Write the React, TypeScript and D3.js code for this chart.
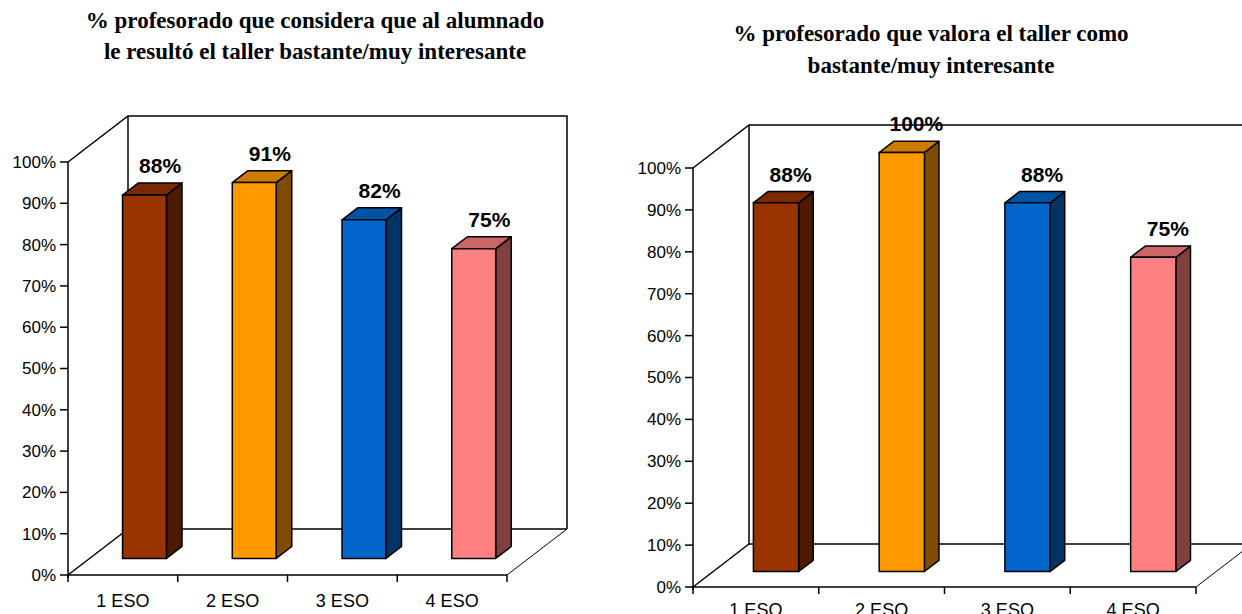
import React from 'react'
import * as d3 from 'd3'

const categories = ['1 ESO', '2 ESO', '3 ESO', '4 ESO']
const alumnadoValues = [88, 91, 82, 75]
const profesoradoValues = [88, 100, 88, 75]
const yTicks = [0, 10, 20, 30, 40, 50, 60, 70, 80, 90, 100]

const leftTitle = ['% profesorado que considera que al alumnado', 'le resultó el taller bastante/muy interesante']
const rightTitle = ['% profesorado que valora el taller como', 'bastante/muy interesante']

// front, side, top colours for each bar
const barColors = [
  { front: '#993300', side: '#4d1a00', top: '#7a2900' },
  { front: '#ff9900', side: '#804d00', top: '#cc7a00' },
  { front: '#0066cc', side: '#003366', top: '#0052a3' },
  { front: '#ff8080', side: '#804040', top: '#cc6666' },
]

interface ChartProps {
  values: number[]
  x0: number
  x1: number
  yBottom: number
  yTop: number
  dx: number
  dy: number
  barFrac: number
  title: string[]
  titleX: number
  titleY: number[]
  labelY: number
}

function Chart3D({ values, x0, x1, yBottom, yTop, dx, dy, barFrac, title, titleX, titleY, labelY }: ChartProps) {
  const x = d3.scaleBand<string>().domain(categories).range([x0, x1])
  const y = d3.scaleLinear().domain([0, 100]).range([yBottom, yTop])
  const dStart = 0.36
  const dEnd = 0.62
  const bw = x.bandwidth() * barFrac

  const lineStyle = { stroke: '#000', strokeWidth: 1.5, fill: 'none' }
  const sans = 'Arial, "Liberation Sans", sans-serif'

  return (
    <g>
      {title.map((t, i) => (
        <text key={i} x={titleX} y={titleY[i]} textAnchor="middle"
          style={{ fontFamily: '"Liberation Serif", "Times New Roman", serif', fontWeight: 'bold', fontSize: 23 }}>
          {t}
        </text>
      ))}
      {/* walls and floor */}
      <polyline {...lineStyle} points={`${x0},${y(100)} ${x0 + dx},${y(100) - dy} ${x1 + dx},${y(100) - dy} ${x1 + dx},${y(0) - dy}`} />
      <line {...lineStyle} x1={x0 + dx} y1={y(100) - dy} x2={x0 + dx} y2={y(0) - dy} />
      <line {...lineStyle} x1={x0 + dx} y1={y(0) - dy} x2={x1 + dx} y2={y(0) - dy} />
      <line {...lineStyle} x1={x0} y1={y(0)} x2={x0 + dx} y2={y(0) - dy} />
      <line {...lineStyle} strokeWidth={1} x1={x1} y1={y(0)} x2={x1 + dx} y2={y(0) - dy} />
      {/* y axis */}
      <line {...lineStyle} x1={x0} y1={y(100)} x2={x0} y2={y(0) + 3} />
      {yTicks.map(t => (
        <g key={t}>
          <line {...lineStyle} x1={x0 - 8} x2={x0} y1={y(t)} y2={y(t)} />
          <text x={x0 - 12} y={y(t)} dy="0.35em" textAnchor="end"
            style={{ fontFamily: sans, fontSize: 17 }}>{t}%</text>
        </g>
      ))}
      {/* x axis */}
      <line {...lineStyle} x1={x0} y1={y(0)} x2={x1} y2={y(0)} />
      {[...categories.map(c => x(c) as number), x1].map((px, i) => (
        <line key={i} stroke="#000" strokeWidth={1.5} x1={px} x2={px} y1={y(0)} y2={y(0) + 7} />
      ))}
      {categories.map(c => (
        <text key={c} x={(x(c) as number) + x.bandwidth() / 2} y={labelY} textAnchor="middle"
          style={{ fontFamily: sans, fontSize: 18 }}>{c}</text>
      ))}
      {/* bars */}
      {values.map((v, i) => {
        const cx = (x(categories[i]) as number) + x.bandwidth() / 2
        const fx = cx - bw / 2 + dStart * dx
        const fyTop = y(v) - dStart * dy
        const fyBot = y(0) - dStart * dy
        const bdx = (dEnd - dStart) * dx
        const bdy = (dEnd - dStart) * dy
        const col = barColors[i]
        return (
          <g key={i} stroke="#000" strokeWidth={1.5} strokeLinejoin="round">
            <polygon fill={col.side} points={`${fx + bw},${fyTop} ${fx + bw + bdx},${fyTop - bdy} ${fx + bw + bdx},${fyBot - bdy} ${fx + bw},${fyBot}`} />
            <polygon fill={col.top} points={`${fx},${fyTop} ${fx + bdx},${fyTop - bdy} ${fx + bw + bdx},${fyTop - bdy} ${fx + bw},${fyTop}`} />
            <rect fill={col.front} x={fx} y={fyTop} width={bw} height={fyBot - fyTop} />
            <text x={fx + bw / 2 + bdx} y={fyTop - bdy - 10} textAnchor="middle" stroke="none" fill="#000"
              style={{ fontFamily: sans, fontSize: 21, fontWeight: 'bold' }}>
              {v}%
            </text>
          </g>
        )
      })}
    </g>
  )
}

export default function App() {
  return (
    <svg width={1242} height={614} style={{ position: 'fixed', left: 0, top: 0, background: '#fff' }}>
      <rect width={1242} height={614} fill="#fff" />
      <Chart3D values={alumnadoValues} x0={68} x1={507} yBottom={575} yTop={162} dx={60} dy={46} barFrac={0.4}
        title={leftTitle} titleX={315} titleY={[28, 59]} labelY={607} />
      <Chart3D values={profesoradoValues} x0={693} x1={1196} yBottom={587} yTop={168} dx={56} dy={43} barFrac={0.36}
        title={rightTitle} titleX={931} titleY={[41, 73]} labelY={616} />
    </svg>
  )
}
